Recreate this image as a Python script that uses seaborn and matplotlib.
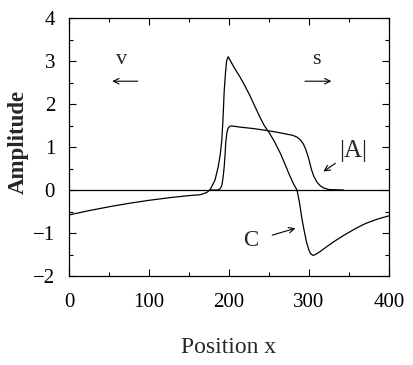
import matplotlib
matplotlib.use("Agg")
import matplotlib.pyplot as plt
import seaborn as sns
import pandas as pd
from matplotlib.ticker import MultipleLocator

# curve C
c_x = [0, 25, 50, 75, 100, 125, 150, 164, 172, 176, 179, 182.5, 186.5, 189, 191, 192.5,
       194, 195.5, 197, 199, 201, 207, 214, 220, 226, 232, 238, 244, 250, 257, 264, 270,
       276, 281, 285, 288, 291, 294, 297, 300, 302, 305, 308, 314, 322, 332, 343, 355,
       365, 372, 385, 400]
c_y = [-0.58, -0.48, -0.39, -0.31, -0.24, -0.18, -0.13, -0.11, -0.06, 0.0, 0.1, 0.23,
       0.54, 0.82, 1.16, 1.65, 2.3, 2.7, 3.0, 3.1, 3.03, 2.83, 2.62, 2.42, 2.2, 1.96,
       1.72, 1.5, 1.34, 1.12, 0.86, 0.6, 0.33, 0.13, 0.0, -0.28, -0.65, -0.95, -1.22,
       -1.4, -1.48, -1.52, -1.5, -1.43, -1.32, -1.19, -1.06, -0.93, -0.83, -0.77, -0.68,
       -0.6]

# curve |A|
a_x = [176, 186, 189, 191, 192.5, 194, 195, 196, 197.5, 199, 201, 203, 215, 230, 245,
       258, 272, 280, 285, 289, 293, 296, 299, 301, 303, 306, 310, 314, 318, 325, 343]
a_y = [0.0, 0.0, 0.03, 0.1, 0.28, 0.54, 0.8, 1.12, 1.35, 1.44, 1.48, 1.49, 1.46, 1.43,
       1.39, 1.35, 1.3, 1.27, 1.23, 1.17, 1.07, 0.94, 0.77, 0.63, 0.48, 0.32, 0.18,
       0.1, 0.05, 0.01, 0.0]

sns.set_style("ticks")
plt.rcParams["font.family"] = ["Liberation Serif", "DejaVu Serif"]

fig = plt.figure(figsize=(4.14, 3.65), dpi=100)
ax = fig.add_axes([69 / 414, 89 / 365, 320 / 414, 258 / 365])

df_c = pd.DataFrame({"x": c_x, "y": c_y})
df_a = pd.DataFrame({"x": a_x, "y": a_y})
sns.lineplot(data=df_c, x="x", y="y", ax=ax, color="black", lw=0.9, sort=False)
sns.lineplot(data=df_a, x="x", y="y", ax=ax, color="black", lw=0.9, sort=False)
ax.axhline(0, color="black", lw=0.9)

ax.set_xlim(0, 400)
ax.set_ylim(-2, 4)
ax.xaxis.set_major_locator(MultipleLocator(100))
ax.xaxis.set_minor_locator(MultipleLocator(50))
ax.yaxis.set_major_locator(MultipleLocator(1))
ax.yaxis.set_minor_locator(MultipleLocator(0.5))
ax.tick_params(which="both", direction="in", top=True, right=True, width=0.8, colors="black")
ax.tick_params(which="major", length=5, labelsize=15)
ax.tick_params(which="minor", length=3)
ax.tick_params(axis="x", which="major", pad=12)
ax.tick_params(axis="y", which="major", pad=10)
for s in ax.spines.values():
    s.set_linewidth(0.9)
    s.set_color("black")

ax.set_xlabel("Position x", fontsize=17, va="center")
ax.xaxis.set_label_coords(0.498, -0.279)
ax.set_ylabel("Amplitude", fontsize=16.5, fontweight="bold", va="center")
ax.yaxis.set_label_coords(-0.159, 0.52)

# annotations
arrow = dict(arrowstyle="->", color="black", lw=0.8, shrinkA=0, shrinkB=0)
ax.text(66, 3.04, "v", fontsize=16, ha="center", va="center")
ax.annotate("", xy=(54, 2.53), xytext=(86, 2.53), arrowprops=arrow)
ax.text(309, 3.04, "s", fontsize=16, ha="center", va="center")
ax.annotate("", xy=(328, 2.53), xytext=(295, 2.53), arrowprops=arrow)
ax.text(355, 0.9, "|A|", fontsize=18, ha="center", va="center")
ax.annotate("", xy=(318, 0.43), xytext=(333, 0.62), arrowprops=arrow)
ax.text(227.5, -1.17, "C", fontsize=16.5, ha="center", va="center")
ax.annotate("", xy=(283, -0.89), xytext=(254, -1.05), arrowprops=arrow)

fig.savefig("out.png", dpi=100)
